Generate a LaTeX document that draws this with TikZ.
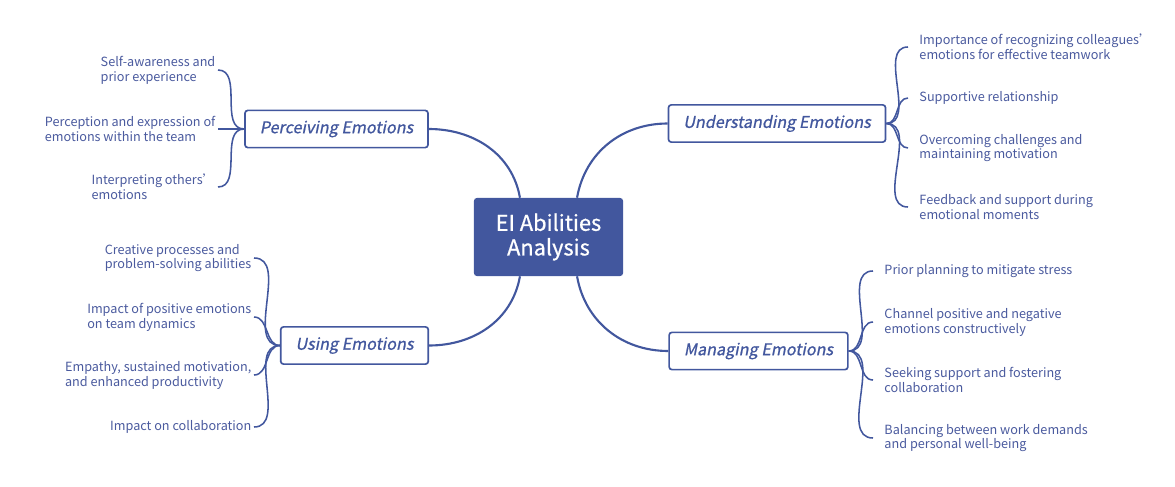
\documentclass[tikz,border=0pt]{standalone}
\usepackage{fontspec}
\setmainfont{Noto Sans CJK SC}[AutoFakeSlant=0.2]
\newfontfamily\topicfont{Noto Sans CJK SC}[FakeSlant=0.2, FakeBold=0.8]
\newfontfamily\rootfont{Noto Sans CJK SC}[FakeBold=0.8]
\definecolor{mapblue}{HTML}{42579E}
\definecolor{leafblue}{HTML}{4A5A9E}
\begin{document}
\begin{tikzpicture}[x=0.025cm,y=-0.025cm,
    rootbox/.style={fill=mapblue, text=white, rounded corners=2pt, align=center,
      minimum width=3.725cm, minimum height=1.95cm, font=\rootfont\fontsize{15.5}{17.5}\selectfont},
    topicbox/.style={draw=mapblue, line width=1.2pt, fill=white, text=mapblue, rounded corners=2pt,
      minimum height=0.93cm, inner xsep=0.37cm, font=\topicfont\fontsize{11.5}{14}\selectfont},
    leafL/.style={anchor=east, align=left, text=leafblue, inner xsep=0.06cm, font=\fontsize{9}{10.6}\selectfont},
    leafR/.style={anchor=west, align=left, text=leafblue, inner xsep=0.28cm, font=\fontsize{9}{10.6}\selectfont},
    mainline/.style={draw=mapblue, line width=1.5pt},
    leafline/.style={draw=mapblue, line width=1.1pt}]
    \useasboundingbox (0,0) rectangle (1175,486);

    % Central topic
    \node [rootbox] (root) at (548.5,237) {EI Abilities\\Analysis};

    % Main branches
    \node [topicbox] (perc) at (336.5,129) {Perceiving Emotions};
    \node [topicbox] (und) at (777,123.5) {Understanding Emotions};
    \node [topicbox] (use) at (354.5,345.5) {Using Emotions};
    \node [topicbox] (man) at (758.5,351) {Managing Emotions};

    \draw [mainline] (root.126) to[out=100,in=0] (perc.east);
    \draw [mainline] (root.54) to[out=80,in=180] (und.west);
    \draw [mainline] (root.234) to[out=260,in=0] (use.east);
    \draw [mainline] (root.306) to[out=280,in=180] (man.west);

    % Leaves of Perceiving Emotions
    \node [leafL] (p1) at (218,70) {Self-awareness and\\prior experience};
    \node [leafL] (p2) at (218,129) {Perception and expression of\\emotions within the team};
    \node [leafL] (p3) at (218,187) {Interpreting others'\\emotions};
    \foreach \n in {p1,p2,p3}
      \draw [leafline] (perc.west) to[out=180,in=0] (\n.east);

    % Leaves of Using Emotions
    \node [leafL] (u1) at (254,258) {Creative processes and\\problem-solving abilities};
    \node [leafL] (u2) at (254,317) {Impact of positive emotions\\on team dynamics};
    \node [leafL] (u3) at (254,375) {Empathy, sustained motivation,\\and enhanced productivity};
    \node [leafL] (u4) at (254,427) {Impact on collaboration};
    \foreach \n in {u1,u2,u3,u4}
      \draw [leafline] (use.west) to[out=180,in=0] (\n.east);

    % Leaves of Understanding Emotions
    \node [leafR] (d1) at (908,47) {Importance of recognizing colleagues'\\emotions for effective teamwork};
    \node [leafR] (d2) at (908,98) {Supportive relationship};
    \node [leafR] (d3) at (908,148) {Overcoming challenges and\\maintaining motivation};
    \node [leafR] (d4) at (908,207) {Feedback and support during\\emotional moments};
    \foreach \n in {d1,d2,d3,d4}
      \draw [leafline] (und.east) to[out=0,in=180] (\n.west);

    % Leaves of Managing Emotions
    \node [leafR] (m1) at (873,271) {Prior planning to mitigate stress};
    \node [leafR] (m2) at (873,322) {Channel positive and negative\\emotions constructively};
    \node [leafR] (m3) at (873,380) {Seeking support and fostering\\collaboration};
    \node [leafR] (m4) at (873,438) {Balancing between work demands\\and personal well-being};
    \foreach \n in {m1,m2,m3,m4}
      \draw [leafline] (man.east) to[out=0,in=180] (\n.west);
\end{tikzpicture}
\end{document}
